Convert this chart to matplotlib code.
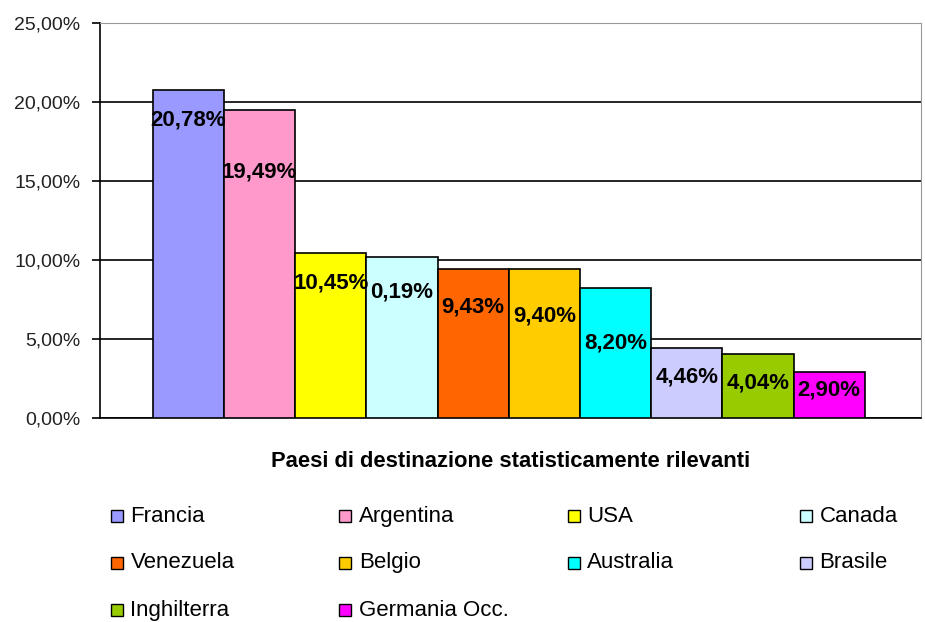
import numpy as np
import matplotlib.pyplot as plt
from matplotlib.patches import Rectangle

plt.rcParams['font.family'] = ['Liberation Sans', 'DejaVu Sans']

# dati
paesi = ['Francia', 'Argentina', 'USA', 'Canada', 'Venezuela',
         'Belgio', 'Australia', 'Brasile', 'Inghilterra', 'Germania Occ.']
valori = [20.78, 19.49, 10.45, 10.19, 9.43, 9.40, 8.20, 4.46, 4.04, 2.90]
etichette = ['20,78%', '19,49%', '10,45%', '0,19%', '9,43%',
             '9,40%', '8,20%', '4,46%', '4,04%', '2,90%']
pos_etichette = [18.85, 15.6, 8.57, 8.0, 7.04, 6.47, 4.76, 2.6, 2.22, 1.78]
colori = ['#9999FF', '#FF99CC', '#FFFF00', '#CCFFFF', '#FF6600',
          '#FFCC00', '#00FFFF', '#CCCCFF', '#99CC00', '#FF00FF']
yticks = [0, 5, 10, 15, 20, 25]
ytick_labels = ['0,00%', '5,00%', '10,00%', '15,00%', '20,00%', '25,00%']

fig = plt.figure(figsize=(9.25, 6.22), dpi=100)
ax = fig.add_axes([0.108, 0.328, 0.8877, 0.635])

x = np.arange(len(paesi))
ax.bar(x, valori, width=1.0, color=colori, edgecolor='black', linewidth=1.2, zorder=3)
for xi, yi, t in zip(x, pos_etichette, etichette):
    ax.text(xi, yi, t, ha='center', va='center', fontsize=16,
            fontweight='bold', zorder=4)

ax.set_xlim(-1.244, 10.29)
ax.set_ylim(0, 25)
ax.set_yticks(yticks)
ax.set_yticklabels(ytick_labels, fontsize=14, color='#222222')
ax.set_xticks([])
ax.yaxis.grid(True, color='black', linewidth=1.2, zorder=0)
ax.tick_params(axis='y', length=6, width=1.2, pad=8)

ax.spines['top'].set_color('#999999')
ax.spines['right'].set_color('#999999')
ax.spines['left'].set_linewidth(1.2)
ax.spines['bottom'].set_linewidth(1.2)

ax.set_xlabel('Paesi di destinazione statisticamente rilevanti',
              fontsize=15.8, fontweight='bold', labelpad=24)

# legenda a 4 colonne, riempita per righe
col_x = [0.120, 0.367, 0.614, 0.865]
row_y = [0.170, 0.095, 0.019]
lato = 0.0125
for i, (nome, c) in enumerate(zip(paesi, colori)):
    cx = col_x[i % 4]
    cy = row_y[i // 4]
    fig.add_artist(Rectangle((cx, cy - lato * 0.75), lato, lato * 1.5,
                             transform=fig.transFigure, facecolor=c,
                             edgecolor='black', linewidth=1))
    fig.text(cx + 0.021, cy, nome, ha='left', va='center', fontsize=16)

plt.savefig('out.png', dpi=100)
